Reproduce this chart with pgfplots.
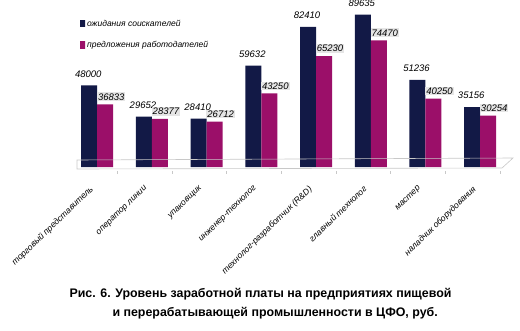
\documentclass[border=0pt]{standalone}
\usepackage{pgfplots}
\pgfplotsset{compat=1.18}
\usepackage{fontspec}
\setmainfont{Liberation Sans}
\definecolor{navyD}{RGB}{18,25,70}
\definecolor{navyL}{RGB}{58,74,145}
\definecolor{pinkD}{RGB}{155,15,105}
\definecolor{pinkL}{RGB}{232,60,175}
\definecolor{floorc}{RGB}{200,200,200}
\begin{document}
\begin{tikzpicture}[x=1pt,y=1pt]
\path[use as bounding box] (0,0) rectangle (520,330);
\begin{axis}[
  at={(77pt,163pt)}, anchor=south west,
  scale only axis, width=436pt, height=153pt,
  xmin=-0.37, xmax=7.6, ymin=0, ymax=90000,
  hide y axis, axis x line*=bottom, x axis line style={draw=none},
  major tick length=0pt, clip=false,
  ybar, bar width=16pt,
  xtick=data,
  xticklabels={торговый представитель, оператор линии, упаковщик, инженер-технолог, технолог-разработчик (R\&D), главный технолог, мастер, наладчик оборудования},
  xticklabel style={rotate=44, anchor=north east, font=\itshape\fontsize{8.6}{9}\selectfont, xshift=-15pt, yshift=-4pt},
  legend style={at={(0.0,0.99)}, anchor=north west, draw=none, fill=none, font=\itshape\fontsize{8.5}{10}\selectfont, row sep=10pt},
  legend cell align=left,
  legend image code/.code={\path[#1, draw=none] (0pt,-3pt) rectangle (5pt,3.5pt);},
  nodes near coords, every node near coord/.append style={font=\itshape\fontsize{9.5}{10}\selectfont, text=black, inner sep=1pt},
  /pgf/number format/.cd, 1000 sep={}, assume math mode=true,
]
\addplot[bar shift=-8pt, draw=none, shade, shading=axis, shading angle=90, left color=navyD, middle color=navyL, right color=navyD,
  every node near coord/.append style={anchor=south, yshift=7pt, xshift=-1pt}]
  coordinates {(0,48000) (1,29652) (2,28410) (3,59632) (4,82410) (5,89635) (6,51236) (7,35156)};
\addplot[bar shift=8pt, draw=none, shade, shading=axis, shading angle=90, left color=pinkD, middle color=pinkL, right color=pinkD,
  every node near coord/.append style={anchor=south, yshift=3pt, xshift=6pt, fill=black!10}]
  coordinates {(0,36833) (1,28377) (2,26712) (3,43250) (4,65230) (5,74470) (6,40250) (7,30254)};
\legend{ожидания соискателей, предложения работодателей}
% floor
\draw[floorc, line width=0.6pt] (axis cs:-0.37,0) ++(0pt,7pt) -- ++(436pt,2pt) -- ++(-11pt,-10pt) -- ++(-425pt,-1pt) -- cycle;
\pgfplotsinvokeforeach{0,...,7}{
  \draw[floorc, line width=0.6pt] (axis cs:#1+0.366,0) ++(0pt,-4pt) -- ++(0pt,-3pt);
}
\end{axis}
\node[anchor=west, font=\bfseries\fontsize{12.4}{14}\selectfont] at (66,36) {Рис. 6. Уровень заработной платы на предприятиях пищевой};
\node[anchor=west, font=\bfseries\fontsize{12.4}{14}\selectfont] at (109,17) {и перерабатывающей промышленности в ЦФО, руб.};
\end{tikzpicture}
\end{document}
